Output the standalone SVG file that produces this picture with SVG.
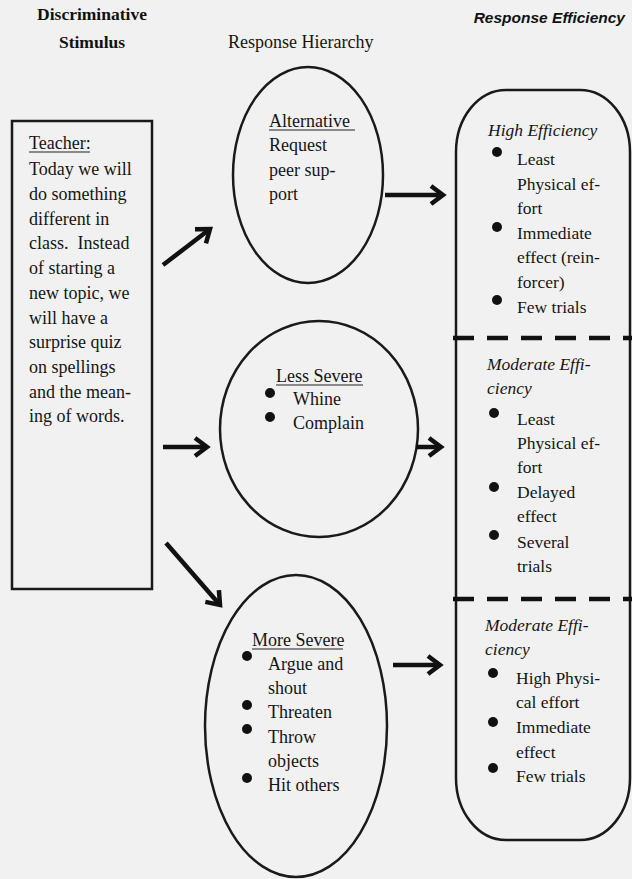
<svg xmlns="http://www.w3.org/2000/svg" width="632" height="879" viewBox="0 0 632 879">
<defs>
<style>
.t{font-family:"Liberation Serif","Times New Roman",serif;font-size:18px;fill:#151515}
.e{font-family:"Liberation Serif","Times New Roman",serif;font-size:17.5px;fill:#151515}
.i{font-style:italic}
.hb{font-family:"Liberation Serif","Times New Roman",serif;font-size:17.5px;font-weight:bold;fill:#111}
.hs{font-family:"Liberation Sans",Arial,sans-serif;font-size:15.5px;font-weight:bold;font-style:italic;fill:#111}
.shape{fill:none;stroke:#1a1a1a;stroke-width:2.5}
.dash{stroke:#111;stroke-width:4.5;stroke-dasharray:21 13}
.arr{fill:none;stroke:#111;stroke-width:4.5}
.b{fill:#111}
.u{stroke:#222;stroke-width:1.2}
</style>
<marker id="ah" markerWidth="22" markerHeight="24" refX="17" refY="12" orient="auto" markerUnits="userSpaceOnUse">
<path d="M5,3 L17,12 L5,21" fill="none" stroke="#111" stroke-width="4.5"/>
</marker>
</defs>
<rect width="632" height="879" fill="#f1f1f1"/>
<g id="headers">
<text class="hb" x="92" y="20" text-anchor="middle">Discriminative</text>
<text class="hb" x="92" y="48" text-anchor="middle">Stimulus</text>
<text class="t" x="228" y="48">Response Hierarchy</text>
<text class="hs" x="625" y="23" text-anchor="end">Response Efficiency</text>
</g>
<g id="teacher">
<rect class="shape" x="12" y="121" width="140" height="468"/>
<text class="t" x="29" y="149">Teacher:</text>
<line class="u" x1="29" y1="152" x2="90" y2="152"/>
<text class="t" x="29" y="175">Today we will</text>
<text class="t" x="29" y="199.5">do something</text>
<text class="t" x="29" y="224.5">different in</text>
<text class="t" x="29" y="249">class.&#160; Instead</text>
<text class="t" x="29" y="274">of starting a</text>
<text class="t" x="29" y="298.5">new topic, we</text>
<text class="t" x="29" y="323.5">will have a</text>
<text class="t" x="29" y="348">surprise quiz</text>
<text class="t" x="29" y="373">on spellings</text>
<text class="t" x="29" y="397.5">and the mean-</text>
<text class="t" x="29" y="422">ing of words.</text>
</g>
<g id="alternative">
<ellipse class="shape" cx="308" cy="175" rx="75" ry="108"/>
<text class="t" x="269" y="127">Alternative</text>
<line class="u" x1="269" y1="130" x2="355" y2="130"/>
<text class="t" x="269" y="151">Request</text>
<text class="t" x="269" y="176">peer sup-</text>
<text class="t" x="269" y="200">port</text>
</g>
<g id="less-severe">
<ellipse class="shape" cx="319" cy="429" rx="99" ry="108"/>
<text class="t" x="276" y="382">Less Severe</text>
<line class="u" x1="276" y1="385" x2="363" y2="385"/>
<circle class="b" cx="270" cy="393" r="5"/>
<text class="t" x="293" y="405">Whine</text>
<circle class="b" cx="270" cy="417" r="5"/>
<text class="t" x="293" y="429">Complain</text>
</g>
<g id="more-severe">
<ellipse class="shape" cx="296" cy="726" rx="91" ry="151"/>
<text class="t" x="252" y="646">More Severe</text>
<line class="u" x1="252" y1="649" x2="343" y2="649"/>
<circle class="b" cx="247" cy="656" r="5"/>
<text class="t" x="268" y="670">Argue and</text>
<text class="t" x="268" y="694">shout</text>
<circle class="b" cx="247" cy="705" r="5"/>
<text class="t" x="268" y="718">Threaten</text>
<circle class="b" cx="247" cy="729" r="5"/>
<text class="t" x="268" y="743">Throw</text>
<text class="t" x="268" y="767">objects</text>
<circle class="b" cx="247" cy="778" r="5"/>
<text class="t" x="268" y="791">Hit others</text>
</g>
<g id="efficiency">
<rect class="shape" x="456" y="90" width="174" height="750" rx="50" ry="62"/>
<line class="dash" x1="453" y1="338" x2="632" y2="338"/>
<line class="dash" x1="453" y1="599" x2="632" y2="599"/>
<text class="e i" x="488" y="136">High Efficiency</text>
<circle class="b" cx="497" cy="152" r="5"/>
<text class="e" x="517" y="165">Least</text>
<text class="e" x="517" y="190">Physical ef-</text>
<text class="e" x="517" y="214">fort</text>
<circle class="b" cx="497" cy="227" r="5"/>
<text class="e" x="517" y="239">Immediate</text>
<text class="e" x="517" y="263">effect (rein-</text>
<text class="e" x="517" y="288">forcer)</text>
<circle class="b" cx="497" cy="300" r="5"/>
<text class="e" x="517" y="313">Few trials</text>
<text class="e i" x="487" y="370">Moderate Effi-</text>
<text class="e i" x="487" y="394">ciency</text>
<circle class="b" cx="494" cy="413" r="5"/>
<text class="e" x="517" y="425">Least</text>
<text class="e" x="517" y="449">Physical ef-</text>
<text class="e" x="517" y="473">fort</text>
<circle class="b" cx="494" cy="487" r="5"/>
<text class="e" x="517" y="498">Delayed</text>
<text class="e" x="517" y="522">effect</text>
<circle class="b" cx="494" cy="535" r="5"/>
<text class="e" x="517" y="548">Several</text>
<text class="e" x="517" y="572">trials</text>
<text class="e i" x="485" y="631">Moderate Effi-</text>
<text class="e i" x="485" y="655">ciency</text>
<circle class="b" cx="493" cy="673" r="5"/>
<text class="e" x="516" y="684">High Physi-</text>
<text class="e" x="516" y="708">cal effort</text>
<circle class="b" cx="493" cy="722" r="5"/>
<text class="e" x="516" y="733">Immediate</text>
<text class="e" x="516" y="758">effect</text>
<circle class="b" cx="493" cy="768" r="5"/>
<text class="e" x="516" y="782">Few trials</text>
</g>
<g id="connectors">
<line class="arr" x1="163" y1="265" x2="210" y2="229" marker-end="url(#ah)"/>
<line class="arr" x1="163" y1="447" x2="207" y2="447" marker-end="url(#ah)"/>
<line class="arr" x1="166" y1="543" x2="220" y2="605" marker-end="url(#ah)"/>
<line class="arr" x1="385" y1="195" x2="443" y2="195" marker-end="url(#ah)"/>
<line class="arr" x1="416" y1="447" x2="441" y2="447" marker-end="url(#ah)"/>
<line class="arr" x1="393" y1="665" x2="440" y2="665" marker-end="url(#ah)"/>
</g>
</svg>
